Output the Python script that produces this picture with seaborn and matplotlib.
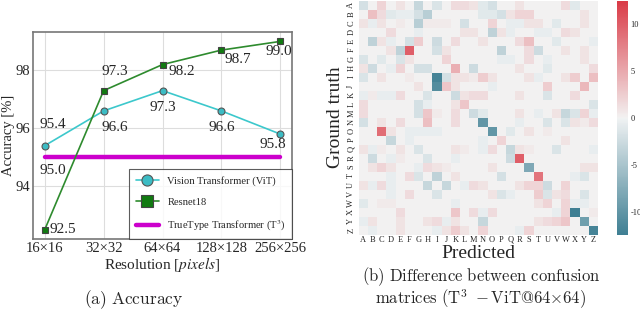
import matplotlib
matplotlib.use("Agg")
import matplotlib.pyplot as plt
import seaborn as sns
import pandas as pd
import numpy as np

# --- (a) accuracy vs resolution ---
resolutions = ["16×16", "32×32", "64×64", "128×128", "256×256"]
vit_acc = [95.4, 96.6, 97.3, 96.6, 95.8]
resnet_acc = [92.5, 97.3, 98.2, 98.7, 99.0]
t3_acc = [95.0, 95.0, 95.0, 95.0, 95.0]

# --- (b) difference of confusion matrices (T3 - ViT), only the non-zero cells ---
letters = list("ABCDEFGHIJKLMNOPQRSTUVWXYZ")
diff_cells = {
    "A": {"A": -2, "C": 2, "E": 1, "G": -3, "I": -1.5, "K": 1.5, "L": 1.5, "M": 1, "N": -1, "O": -2, "R": 1, "W": 1.5, "X": -1},
    "B": {"B": 3.5, "C": 1.5, "D": -1, "E": -0.5, "F": -0.5, "G": -2, "H": -4, "N": -1, "O": -1, "P": -2, "Q": 1, "R": 2, "S": 2, "Y": 1},
    "C": {"A": 1, "B": -0.5, "C": 1, "E": 0.5, "G": -4, "H": 0.5, "I": 0.5, "J": 0.5, "L": -2, "O": 2, "Q": -0.5, "R": -0.5, "S": 1, "T": 1, "V": -1, "Y": 1},
    "D": {"D": 1.5, "G": -0.5, "L": 1, "M": 1, "O": -3.5, "P": 1, "Q": -0.5, "T": -0.5, "U": -0.5, "W": 1.5, "X": 1},
    "E": {"B": -3.5, "C": 1, "D": -0.5, "F": -2, "G": 2.5, "I": -2.5, "K": 1.5, "N": 1, "R": 1.5, "S": 3.5, "V": -1, "Z": -0.5},
    "F": {"D": 1, "E": -3.5, "F": 10, "I": -2, "J": 1, "P": -3.5, "S": 1.5, "T": -2.5, "W": 1, "Y": 1},
    "G": {"A": -1.5, "C": -1, "E": -1.5, "F": 1, "J": 2, "P": -0.5, "Q": -0.5, "S": 1.5, "U": -0.5, "Y": 1},
    "H": {"A": 1, "B": -2.5, "D": -0.5, "E": 2, "G": -2, "H": -2, "K": 4.5, "M": -2.5, "R": 1, "U": -1, "Z": 1.5},
    "I": {"A": -1.5, "C": 1, "F": 0.5, "I": -12, "J": -2, "K": 1, "L": 1, "M": 0.5, "N": 2.5, "O": 1, "S": 1, "T": -0.5, "W": 1, "X": 2.5, "Z": 3.5},
    "J": {"G": 1, "I": -11, "J": 3, "K": 1, "O": -0.5, "U": 2.5, "Y": 4},
    "K": {"A": -0.5, "B": 0.5, "C": -0.5, "D": -0.5, "E": 1.5, "H": -1.5, "K": -2.5, "L": 1, "M": 1.5, "N": 1.5, "R": 1, "U": -1.5, "X": 1.5},
    "L": {"A": 1.5, "G": -2, "H": -0.5, "K": 1, "L": 3, "Z": -1.5},
    "M": {"A": 1.5, "G": -2, "H": 3, "I": 0.5, "K": 1.5, "M": -2.5, "N": -1, "R": 1, "T": -0.5, "V": 1, "W": -3, "X": -1.5, "Y": 2, "Z": -0.5},
    "N": {"A": -2, "C": 1, "E": 1.5, "H": 3.5, "K": 1.5, "N": -10, "R": -0.5, "U": -1.5, "W": -1.5, "X": 1, "Y": 0.5, "Z": 1.5},
    "O": {"C": 9, "D": 1, "F": -0.5, "G": -0.5, "H": -0.5, "I": -0.5, "O": -10, "Q": -1, "S": 1, "U": 0.5},
    "P": {"D": -3, "F": -0.5, "N": -0.5, "P": 2, "W": 1},
    "Q": {"A": 1, "B": -0.5, "C": 0.5, "E": 1, "G": -1.5, "K": 1, "L": 0.5, "N": -0.5, "O": 1.5, "Q": -3, "R": 1, "S": 0.5, "V": -1.5, "Z": -0.5},
    "R": {"B": -2.5, "D": -0.5, "E": 0.5, "H": -1.5, "K": -0.5, "Q": -2.5, "R": 10},
    "S": {"B": 1, "C": 2, "D": 1, "G": -0.5, "H": 1.5, "I": 1, "J": 0.5, "O": 1, "S": -8, "Y": 1, "Z": 1},
    "T": {"D": -0.5, "F": 1.5, "G": -1.5, "I": -3.5, "K": 1, "P": -2, "T": 8.5, "X": -0.5, "Y": -1.5},
    "U": {"A": 1, "B": -0.5, "C": 1.5, "D": -0.5, "H": -3, "J": -3, "L": -0.5, "M": 1.5, "N": 1, "R": 1, "S": 2, "T": 2, "U": -2.5, "W": 2},
    "V": {"D": -0.5, "F": 1.5, "I": -1.5, "O": 1, "P": -1.5, "Q": -0.5, "T": 2.5, "U": -1.5, "V": 1, "W": 1.5, "Y": -1.5},
    "W": {"A": -1, "C": 0.5, "D": 0.5, "K": -0.5, "T": 1, "U": 2, "W": 2, "X": -0.5, "Y": -0.5},
    "X": {"E": 1.5, "K": 3, "M": 1.5, "N": -0.5, "O": 1.5, "V": -0.5, "W": 2, "X": -12.5, "Z": 0.5},
    "Y": {"A": -0.5, "B": 1, "E": 1, "H": 1, "I": 1.5, "J": -0.5, "K": 1, "N": -3, "T": 1, "U": 1.5, "V": 2, "W": 3, "Y": -9},
    "Z": {"B": -0.5, "E": 1, "I": -0.5, "J": 1, "K": 2.5, "L": 1, "N": 2, "R": -0.5, "S": 2, "Z": -12},
}

sns.set_theme(style="whitegrid")
plt.rcParams["font.family"] = ["Liberation Serif", "DejaVu Serif"]
plt.rcParams["mathtext.fontset"] = "stix"
plt.rcParams["axes.unicode_minus"] = False

fig = plt.figure(figsize=(6.4, 3.12), dpi=100)
W, H = 640, 312

# ---------------- panel (a) ----------------
ax = fig.add_axes([33 / W, 1 - 239 / H, 259 / W, 207 / H])
x = np.arange(len(resolutions))

sns.lineplot(x=x, y=t3_acc, ax=ax, color="#cc00cc", lw=3.2,
             label="TrueType Transformer (T$^3$)", zorder=2)
sns.lineplot(x=x, y=vit_acc, ax=ax, color="#3cc8cc", lw=1.2, marker="o",
             markersize=5, markerfacecolor="#3cbcc4", markeredgecolor="#555555",
             markeredgewidth=0.8, label="Vision Transformer (ViT)", zorder=3)
sns.lineplot(x=x, y=resnet_acc, ax=ax, color="#2e8b2e", lw=1.2, marker="s",
             markersize=5, markerfacecolor="#117a11", markeredgecolor="#444444",
             markeredgewidth=0.8, label="Resnet18", zorder=3)

# value labels (offsets in pixels, hand placed like the original)
vit_off = [(8, 21), (11, -17), (0, -17), (0, -17), (-7, -10)]
res_off = [(18, 0), (11, 19), (19, -7), (16, -9), (-1, -10)]
for i in range(len(x)):
    ax.annotate(f"{vit_acc[i]:.1f}", (x[i], vit_acc[i]), xytext=vit_off[i],
                textcoords="offset pixels", ha="center", va="center", fontsize=11)
    ax.annotate(f"{resnet_acc[i]:.1f}", (x[i], resnet_acc[i]), xytext=res_off[i],
                textcoords="offset pixels", ha="center", va="center", fontsize=11)
ax.annotate(f"{t3_acc[0]:.1f}", (x[0], t3_acc[0]), xytext=(8, -7),
            textcoords="offset pixels", ha="center", va="top", fontsize=11)

ax.set_xticks(x)
ax.set_xticklabels(resolutions)
ax.set_yticks([94, 96, 98])
ax.tick_params(labelsize=10.5, length=0, pad=2)
ax.set_xlabel("Resolution [$pixels$]", fontsize=11, labelpad=0)
ax.set_ylabel("Accuracy [%]", fontsize=10.5)
ax.yaxis.set_label_coords(-0.07, 0.5)
ax.grid(True, color="#dddddd", lw=0.8)
for s in ax.spines.values():
    s.set_color("#777777")
    s.set_linewidth(1.2)

# legend order like the original
h, l = ax.get_legend_handles_labels()
order = [1, 2, 0]
leg = ax.legend([h[i] for i in order], [l[i] for i in order], loc="lower right",
                fontsize=7.6, borderaxespad=0, frameon=True, fancybox=False,
                markerscale=1.6, labelspacing=1.1, handlelength=2.2,
                borderpad=0.6)
leg.get_frame().set_edgecolor("#333333")
leg.get_frame().set_linewidth(0.8)

fig.text(134 / W, 1 - 300 / H, r"$\mathrm{(a)\ Accuracy}$", ha="center", va="center",
         fontsize=12.5, math_fontfamily="cm")

# ---------------- panel (b) ----------------
diff = pd.DataFrame(0.0, index=letters, columns=letters)
for row, cells in diff_cells.items():
    for col, v in cells.items():
        diff.loc[row, col] = v
vlim = np.abs(diff.values).max()

ax2 = fig.add_axes([358.7 / W, 1 - 234.5 / H, 239.3 / W, 234 / H])
cax = fig.add_axes([617 / W, 1 - 235 / H, 10.5 / W, 234 / H])
cmap = sns.diverging_palette(220, 10, as_cmap=True)
sns.heatmap(diff, ax=ax2, cbar_ax=cax, cmap=cmap, center=0, vmin=-vlim, vmax=vlim,
            xticklabels=letters, yticklabels=letters)
ax2.set_xticklabels(letters, rotation=0, fontsize=6)
ax2.set_yticklabels(letters, rotation=90, va="center", fontsize=6)
ax2.tick_params(axis="both", length=1.5, width=0.5, pad=1)
ax2.tick_params(axis="x", length=0)
ax2.set_xlabel("Predicted", fontsize=14, labelpad=1)
ax2.set_ylabel("Ground truth", fontsize=14, labelpad=2)
cax.set_yticks([10, 5, 0, -5, -10])
cax.tick_params(labelsize=6, length=0, pad=2)

fig.text(481 / W, 1 - 277 / H, r"$\mathrm{(b)\ Difference\ between\ confusion}$",
         ha="center", va="center", fontsize=12, math_fontfamily="cm")
fig.text(481 / W, 1 - 299 / H, r"$\mathrm{matrices\ (T^3\ -ViT@64{\times}64)}$",
         ha="center", va="center", fontsize=12, math_fontfamily="cm")

fig.savefig("out.png", dpi=100)
